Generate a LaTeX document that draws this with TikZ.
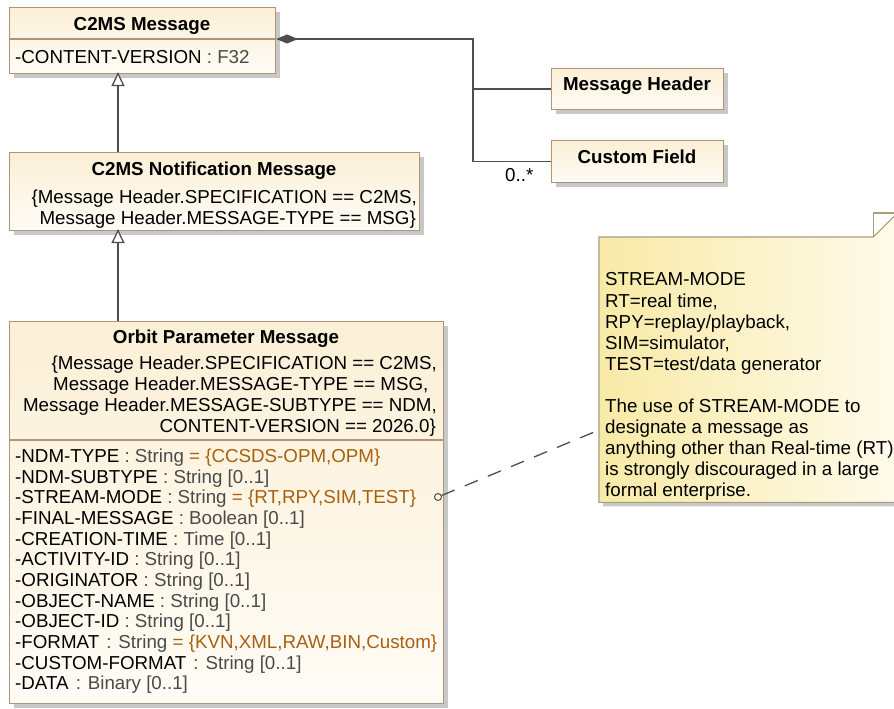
\documentclass[tikz,border=0pt]{standalone}
\usepackage{fontspec}
\setmainfont{Liberation Sans}
\usetikzlibrary{arrows.meta,shadows}
\definecolor{boxline}{HTML}{B09478}
\definecolor{boxtop}{HTML}{FBF0D6}
\definecolor{boxbot}{HTML}{FFFCF6}
\definecolor{notea}{HTML}{F8EAA6}
\definecolor{noteb}{HTML}{FFFBEC}
\definecolor{noteline}{HTML}{A4A07A}
\definecolor{conn}{HTML}{4E4E4E}
\definecolor{typec}{HTML}{4A4A4A}
\definecolor{valc}{HTML}{A9600E}
\definecolor{shad}{HTML}{C8C8C8}
\newcommand\fs{\fontsize{18.75}{21}\selectfont}
\newcommand\ty[1]{\textcolor{typec}{#1}}
\newcommand\va[1]{\textcolor{valc}{#1}}
\begin{document}
\begin{tikzpicture}[x=1pt,y=-1pt,
  umlbox/.style={rectangle, draw=boxline, line width=1.1pt, top color=boxtop, bottom color=boxbot,
     anchor=north west, inner sep=0,
     drop shadow={shadow xshift=4pt, shadow yshift=-4pt, fill=shad, opacity=1}},
  divider/.style={draw=boxline, line width=1.1pt},
  ttl/.style={anchor=base, inner sep=0, font=\fs\bfseries},
  txt/.style={anchor=base west, inner sep=0, font=\fs},
  txtr/.style={anchor=base east, inner sep=0, font=\fs},
  conn/.style={draw=conn, line width=1.3pt},
  gen/.style={conn, -{Triangle[open, length=14pt, width=13pt, fill=white]}},
  comp/.style={conn, {Diamond[length=22pt, width=9pt]}-},
  notelink/.style={draw=conn, line width=1.3pt, dash pattern=on 14pt off 11pt}
]
\useasboundingbox (0,0) rectangle (894,709);
\fill[white] (0,0) rectangle (894,709);

% ---- boxes
\node[umlbox, minimum width=266pt, minimum height=66pt] (msg) at (9,7) {};
\draw[divider] (msg.west |- 0,39) -- (msg.east |- 0,39);
\node[umlbox, minimum width=172pt, minimum height=41pt] (hdr) at (551,68) {};
\node[umlbox, minimum width=172pt, minimum height=42pt] (cf) at (551,140) {};
\node[umlbox, minimum width=410pt, minimum height=78pt] (notif) at (9,152) {};
\node[umlbox, minimum width=434pt, minimum height=382pt] (opm) at (9,321) {};
\draw[divider] (opm.west |- 0,440) -- (opm.east |- 0,440);

% ---- note
\node[anchor=north west, inner sep=0, minimum width=301pt, minimum height=265pt] (note) at (599,237) {};
\fill[shad] ([shift={(4,4)}]note.north west) -- ([shift={(-23,4)}]note.north east) -- ([shift={(4,31)}]note.north east)
   -- ([shift={(4,4)}]note.south east) -- ([shift={(4,4)}]note.south west) -- cycle;
\path[draw=noteline, line width=1.1pt, left color=notea, right color=noteb]
   (note.north west) -- ([xshift=-27]note.north east) -- ([yshift=27]note.north east)
   -- (note.south east) -- (note.south west) -- cycle;
\draw[draw=noteline, line width=1.1pt] ([xshift=-27]note.north east) -- ([xshift=-27,yshift=24]note.north east) -- ([yshift=24]note.north east);

% ---- connectors
\coordinate (msgR) at (msg.east |- 0,39);
\coordinate (jn) at (473,39);
\draw[comp] (msgR) -- (jn) |- (cf.west);
\draw[conn] (jn |- hdr.west) -- (hdr.west);
\coordinate (gx) at (118,0);
\draw[gen] (notif.north -| gx) -- ([yshift=2]msg.south -| gx);
\draw[gen] (opm.north -| gx) -- ([yshift=2]notif.south -| gx);
\node[circle, draw=conn, line width=1pt, minimum size=7pt, inner sep=0] (smc) at (438,497) {};
\coordinate (notept) at (note.west |- 0,430);
\draw[notelink] (smc) -- (notept);

% ---- texts
\node[ttl] (t1) at (142,30.5) {C2MS Message};
\node[txt] (t2) at (15,63.5) {-CONTENT-VERSION \ty{: F32}};
\node[ttl] (t3) at (637,90.5) {Message Header};
\node[ttl] (t4) at (637,163.5) {Custom Field};
\node[txt] (t5) at (505,181.5) {0..*};
\node[ttl] (t6) at (214,175.5) {C2MS Notification Message};
\node[txtr] (t7) at (417,203.5) {\{Message Header.SPECIFICATION == C2MS,};
\node[txtr] (t8) at (416,224.5) {Message Header.MESSAGE-TYPE == MSG\}};
\node[ttl] (t9) at (226,343.5) {Orbit Parameter Message};
\node[txtr] (c1) at (437,369.5) {\{Message Header.SPECIFICATION == C2MS,};
\node[txtr] (c2) at (437,390.5) {Message Header.MESSAGE-TYPE == MSG,\hspace*{0.45em}};
\node[txtr] (c3) at (437,411.5) {Message Header.MESSAGE-SUBTYPE == NDM,};
\node[txtr] (c4) at (436,432.5) {CONTENT-VERSION == 2026.0\}};

\node[txt] (a1) at (15,462.5) {-NDM-TYPE \ty{: String }\va{= \{CCSDS-OPM,OPM\}}};
\node[txt] (a2) at (15,483.2) {-NDM-SUBTYPE \ty{: String [0..1]}};
\node[txt] (a3) at (15,503.8) {-STREAM-MODE \ty{: String }\va{= \{RT,RPY,SIM,TEST\}}};
\node[txt] (a4) at (15,524.5) {-FINAL-MESSAGE \ty{: Boolean [0..1]}};
\node[txt] (a5) at (15,545.1) {-CREATION-TIME \ty{: Time [0..1]}};
\node[txt] (a6) at (15,565.8) {-ACTIVITY-ID \ty{: String [0..1]}};
\node[txt] (a7) at (15,586.4) {-ORIGINATOR \ty{: String [0..1]}};
\node[txt] (a8) at (15,607.1) {-OBJECT-NAME \ty{: String [0..1]}};
\node[txt] (a9) at (15,627.7) {-OBJECT-ID \ty{: String [0..1]}};
\node[txt] (a10) at (15,648.4) {-FORMAT\hspace*{0.1em} \ty{: String }\va{= \{KVN,XML,RAW,BIN,Custom\}}};
\node[txt] (a11) at (15,669.0) {-CUSTOM-FORMAT\hspace*{0.1em} \ty{: String [0..1]}};
\node[txt] (a12) at (15,689.7) {-DATA\hspace*{0.1em} \ty{: Binary [0..1]}};

\node[txt] (n1) at (605,285.5) {STREAM-MODE};
\node[txt] (n2) at (605,307) {RT=real time,};
\node[txt] (n3) at (605,328.5) {RPY=replay/playback,};
\node[txt] (n4) at (605,349.5) {SIM=simulator,};
\node[txt] (n5) at (605,370.5) {TEST=test/data generator};
\node[txt] (n6) at (605,412.5) {The use of STREAM-MODE to};
\node[txt] (n7) at (605,433.5) {designate a message as};
\node[txt] (n8) at (605,454.5) {anything other than Real-time (RT)};
\node[txt] (n9) at (605,475.5) {is strongly discouraged in a large};
\node[txt] (n10) at (605,496.5) {formal enterprise.};
\end{tikzpicture}
\end{document}
